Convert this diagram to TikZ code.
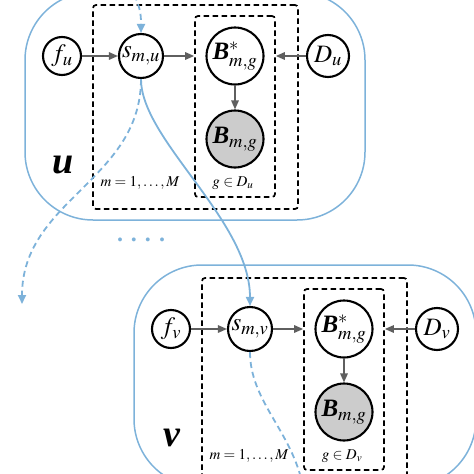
\documentclass[tikz,border=0pt]{standalone}
\usepackage{mathptmx}
\usepackage{fontspec}
\setmainfont{Liberation Serif}
\usetikzlibrary{arrows.meta}

\definecolor{plateblue}{RGB}{125,178,218}
\definecolor{edgegray}{RGB}{95,95,95}

\newcommand{\bB}{\mbox{\bfseries\itshape B}}

\begin{document}
\begin{tikzpicture}[x=1pt,y=-1pt,
	var/.style={circle,draw,fill=white,line width=2.1pt,inner sep=0pt,font=\fontsize{25}{30}\selectfont},
	obs/.style={var,fill=black!20},
	platebox/.style={rectangle,draw,line width=1.7pt,rounded corners=3pt,dash pattern=on 5.5pt off 3.5pt},
	plate/.style={rectangle,draw=plateblue,line width=1.5pt,rounded corners=68pt},
	edge/.style={draw=edgegray,line width=1.5pt,-{Triangle[length=9pt,width=7.5pt]}},
	link/.style={draw=plateblue,line width=1.8pt,-{Triangle[length=9pt,width=8pt]}},
	linkdash/.style={dash pattern=on 6pt off 4pt},
	]
	
	\useasboundingbox (0,0) rectangle (474,474);
	\clip (0,0) rectangle (474,474);
	
	% plate u
	\node(plateu) [plate,minimum width=340pt,minimum height=228pt] at (195,106) {};
	
	\node(outerboxu) [platebox,minimum width=205pt,minimum height=204pt] at (195.5,107) {};
	
	\node(innerboxu) [platebox,minimum width=80pt,minimum height=181pt] at (235,106.5) {};
	
	\node(fu) [var,minimum size=38pt] at (62,56) {$f_u$};
	
	\node(smu) [var,minimum size=44pt] at (141,56) {$s_{m,u}$};
	
	\node(Bstaru) [var,minimum size=57pt] at (235,56) {$\bB^*_{m,g}$};
	
	\node(Bu) [obs,minimum size=57pt] at (235,139) {$\bB_{m,g}$};
	
	\node(Du) [var,minimum size=42pt] at (328,56) {$D_u$};
	
	\node(labelu) [font=\fontsize{38}{44}\selectfont\bfseries\itshape] at (63,165) {u};
	
	\node(rangemu) [font=\fontsize{15}{18}\selectfont] at (140,183) {$m=1,\ldots,M$};
	
	\node(rangegu) [font=\fontsize{15}{18}\selectfont] at (233,183) {$g\in D_u$};
	
	% plate v
	\node(platev) [plate,minimum width=342pt,minimum height=222pt] at (305,376) {};
	
	\node(outerboxv) [platebox,minimum width=205pt,minimum height=204pt] at (304.5,380) {};
	
	\node(innerboxv) [platebox,minimum width=80pt,minimum height=181pt] at (344,379.5) {};
	
	\node(fv) [var,minimum size=38pt] at (171,329) {$f_v$};
	
	\node(smv) [var,minimum size=44pt] at (250,329) {$s_{m,v}$};
	
	\node(Bstarv) [var,minimum size=57pt] at (344,329) {$\bB^*_{m,g}$};
	
	\node(Bv) [obs,minimum size=57pt] at (344,412) {$\bB_{m,g}$};
	
	\node(Dv) [var,minimum size=42pt] at (437,329) {$D_v$};
	
	\node(labelv) [font=\fontsize{38}{44}\selectfont\bfseries\itshape] at (172,438) {v};
	
	\node(rangemv) [font=\fontsize{15}{18}\selectfont] at (249,456) {$m=1,\ldots,M$};
	
	\node(rangegv) [font=\fontsize{15}{18}\selectfont] at (342,456) {$g\in D_v$};
	
	\node(dots) [text=plateblue,font=\fontsize{24}{28}\selectfont\bfseries] at (141,240) {. . . .};
	
	% edges inside the plates
	\draw[edge] (fu) -- (smu);
	\draw[edge] (smu) -- (smu -| innerboxu.west);
	\draw[edge] (Du) -- (Du -| innerboxu.east);
	\draw[edge] (Bstaru) -- (Bu);
	
	\draw[edge] (fv) -- (smv);
	\draw[edge] (smv) -- (smv -| innerboxv.west);
	\draw[edge] (Dv) -- (Dv -| innerboxv.east);
	\draw[edge] (Bstarv) -- (Bv);
	
	% links between the plates
	\coordinate (inflow) at (134,-5);
	\coordinate (leftout) at (22,304);
	\coordinate (downout) at (302,482);
	
	\draw[link,linkdash] (inflow) .. controls (141,8) and (141,18) .. (smu);
	\draw[link] (smu) .. controls (141,140) and (250,220) .. (smv);
	\draw[link,linkdash] (smu) .. controls (141,180) and (22,200) .. (leftout);
	\draw[draw=plateblue,line width=1.8pt,linkdash] (smv) .. controls (250,400) and (290,430) .. (downout);
	
\end{tikzpicture}
\end{document}
